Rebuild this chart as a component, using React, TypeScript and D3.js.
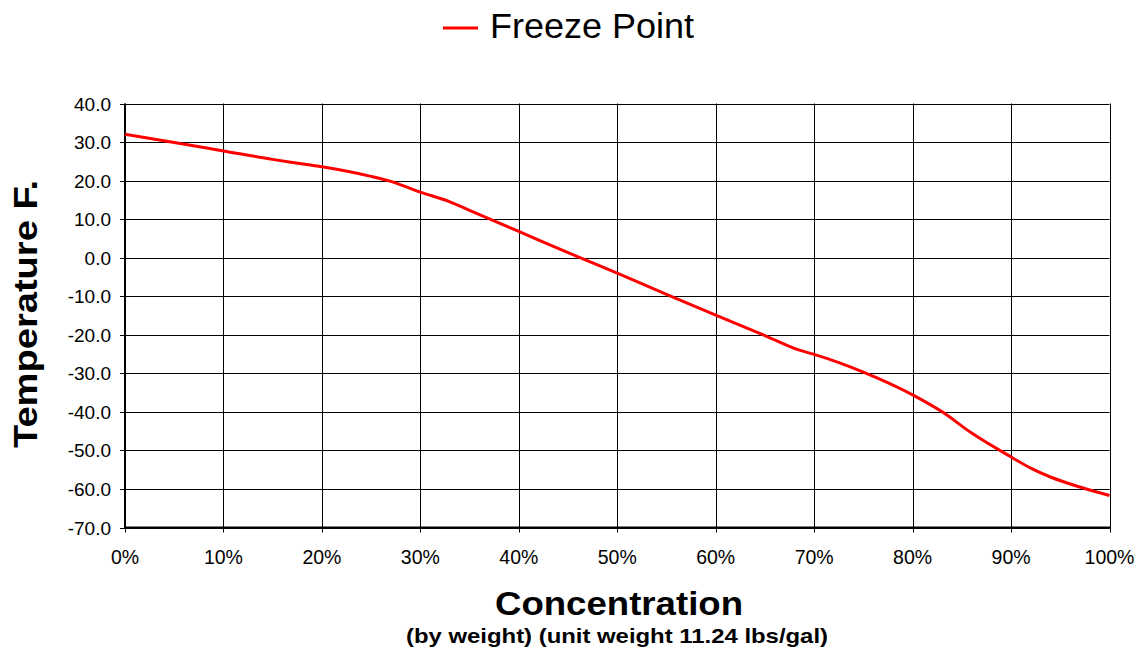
import React from "react";
import * as d3 from "d3";

const concentration = [0, 5, 10, 15, 17, 20, 25, 27, 30, 33, 35, 40, 45, 50, 55, 60, 65, 68.5, 70, 75, 80, 83, 86, 90, 92, 94, 97, 100];
const freezePoint = [32, 29.9, 27.7, 25.5, 24.7, 23.6, 21.1, 19.8, 17.0, 14.5, 12.3, 6.8, 1.3, -4.0, -9.5, -14.9, -20.2, -24.0, -25.1, -29.7, -35.6, -40.0, -45.5, -51.7, -54.6, -56.9, -59.5, -61.7];
const xTicks = [0, 10, 20, 30, 40, 50, 60, 70, 80, 90, 100];
const yTicks = [40, 30, 20, 10, 0, -10, -20, -30, -40, -50, -60, -70];
const seriesName = "Freeze Point";
const xTitle = "Concentration";
const xSubtitle = "(by weight) (unit weight 11.24 lbs/gal)";
const yTitle = "Temperature F.";

export default function App() {
  const W = 1141, H = 662;
  const left = 125, right = 1109.5, top = 103.5, bottom = 527.5;
  const x = d3.scaleLinear().domain([0, 100]).range([left, right]);
  const y = d3.scaleLinear().domain([-70, 40]).range([bottom, top]);
  const data = concentration.map((c, i) => [c, freezePoint[i]] as [number, number]);
  const line = d3.line<[number, number]>().x(d => x(d[0])).y(d => y(d[1])).curve(d3.curveMonotoneX);
  const font = "'Liberation Sans', Arial, sans-serif";
  return (
    <svg width={W} height={H} style={{ position: "absolute", left: 0, top: 0, background: "#fff" }} fontFamily={font}>
      <rect x={0} y={0} width={W} height={H} fill="#fff" />
      {/* grid */}
      {yTicks.map(t => (
        <line key={"gy" + t} x1={left - 5} x2={right} y1={Math.round(y(t)) + 0.5} y2={Math.round(y(t)) + 0.5} stroke="#000" strokeWidth={1} />
      ))}
      {xTicks.map(t => (
        <line key={"gx" + t} x1={Math.round(x(t)) + 0.5} x2={Math.round(x(t)) + 0.5} y1={top} y2={bottom + 5} stroke="#000" strokeWidth={1} />
      ))}
      {/* axes */}
      <line x1={left} x2={left} y1={top} y2={bottom + 1} stroke="#000" strokeWidth={2} />
      <line x1={left} x2={right + 0.5} y1={bottom} y2={bottom} stroke="#000" strokeWidth={2} />
      {/* y tick labels */}
      {yTicks.map(t => (
        <text key={"ly" + t} x={111} y={y(t) + 7} textAnchor="end" fontSize={19} fill="#000">{t.toFixed(1)}</text>
      ))}
      {xTicks.map(t => (
        <text key={"lx" + t} x={x(t)} y={564} textAnchor="middle" fontSize={19.5} fill="#000">{t + "%"}</text>
      ))}
      {/* series */}
      <path d={line(data) || ""} fill="none" stroke="#FF0000" strokeWidth={3} strokeLinejoin="round" />
      {/* legend */}
      <line x1={443} x2={478} y1={28} y2={28} stroke="#FF0000" strokeWidth={3} />
      <text x={490} y={38} fontSize={35} fill="#000" textLength={204} lengthAdjust="spacingAndGlyphs">{seriesName}</text>
      {/* titles */}
      <text x={495} y={615} fontSize={34} fontWeight="bold" fill="#000" textLength={248} lengthAdjust="spacingAndGlyphs">{xTitle}</text>
      <text x={406} y={643} fontSize={21} fontWeight="bold" fill="#000" textLength={422} lengthAdjust="spacingAndGlyphs">{xSubtitle}</text>
      <text transform={`translate(37,448) rotate(-90)`} fontSize={34} fontWeight="bold" fill="#000" textLength={268} lengthAdjust="spacingAndGlyphs">{yTitle}</text>
    </svg>
  );
}
